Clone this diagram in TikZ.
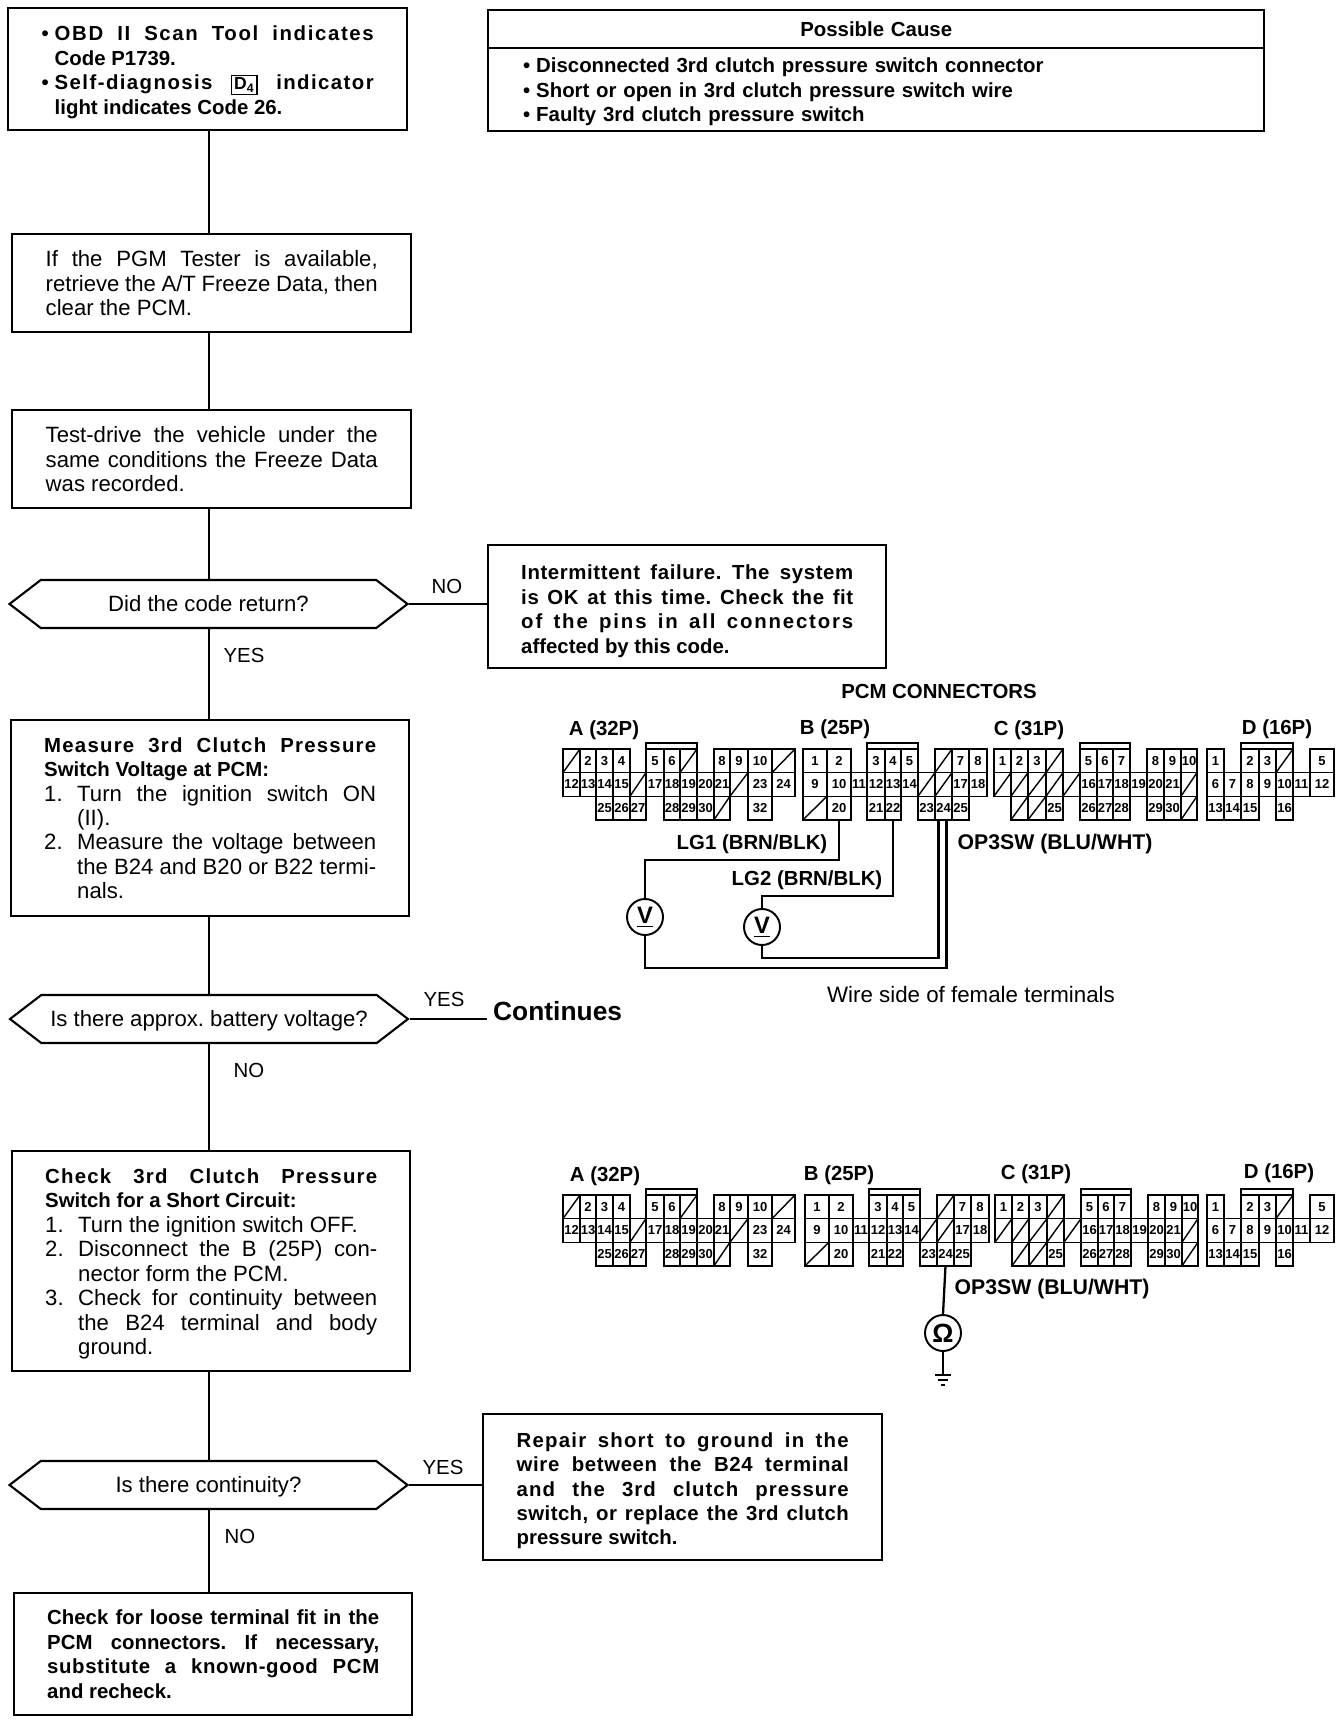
\documentclass[tikz,border=0pt]{standalone}
\usepackage{fontspec}
\setmainfont{Liberation Sans}
\usetikzlibrary{shapes.symbols,calc}
\frenchspacing

\newcommand{\bodyfont}{\fontsize{11.6}{13.9}\selectfont}
\newcommand{\regfont}{\fontsize{12.6}{13.9}\selectfont}
\newcommand{\pinfont}{\fontsize{7.4}{8}\selectfont\bfseries}
\newcommand{\flowitem}[3][0.66cm]{\par\hangindent=#1\hangafter=1\noindent\hbox to #1{#2\hfil}#3\par}
\newcommand{\trk}[2]{{\addfontfeatures{LetterSpace=#1}#2}}
\newcommand{\nudge}[1]{\par\kern#1\relax}
\newcommand{\dfour}{{\setlength{\fboxsep}{1pt}\setlength{\fboxrule}{0.7pt}\fbox{\fontsize{10}{10}\selectfont D\textsubscript{4}}}}

\tikzset{
    flowbox/.style 2 args={draw,line width=1.4pt,inner sep=0pt,anchor=north west,minimum width=#1*0.02cm,minimum height=#2*0.02cm,text width=332*0.02cm,align=justify,font=\regfont,execute at begin node={\tolerance=9999\hbadness=10000}},
    flowhex/.style={draw,line width=1.2pt,shape=signal,signal to=west and east,signal pointer angle=75,inner sep=0pt,minimum width=398*0.02cm,minimum height=48*0.02cm,text height=8.4pt,text depth=0pt,font=\regfont},
    flowline/.style={line width=1pt},
    txtlabel/.style={font=\bodyfont},
    boldlabel/.style={font=\bodyfont\bfseries},
    pincell/.style={draw,line width=0.8pt,inner sep=0pt,outer sep=0pt,minimum height=23.6*0.02cm,font=\pinfont},
    blankpin/.style={pincell,path picture={\draw[line width=0.8pt] (path picture bounding box.south west)--(path picture bounding box.north east);}},
    wire/.style={line width=1.3pt},
    meter/.style={draw,circle,line width=1.1pt,inner sep=0pt,minimum size=36*0.02cm,font=\fontsize{13.5}{13.5}\selectfont\bfseries},
}

% cells of the four connectors: left/right/row/number
\def\plugAnum{17/33/0/2,33/50/0/3,50/67/0/4,83/101/0/5,101/117/0/6,151/167/0/8,167/185/0/9,185/209/0/10,
    0/17/1/12,17/33/1/13,33/50/1/14,50/67/1/15,83/101/1/17,101/117/1/18,117/134/1/19,134/151/1/20,151/167/1/21,185/209/1/23,209/232/1/24,
    33/50/2/25,50/67/2/26,67/83/2/27,101/117/2/28,117/134/2/29,134/151/2/30,185/209/2/32}
\def\plugAblank{0/17/0,117/134/0,209/232/0,67/83/1,167/185/1,151/167/2}
\def\plugBnum{0/24/0/1,24/48/0/2,64/82/0/3,82/98/0/4,98/115/0/5,149/166/0/7,166/184/0/8,
    0/24/1/9,24/48/1/10,48/64/1/11,64/82/1/12,82/98/1/13,98/115/1/14,149/166/1/17,166/184/1/18,
    24/48/2/20,64/82/2/21,82/98/2/22,115/132/2/23,132/149/2/24,149/166/2/25}
\def\plugBblank{132/149/0,115/132/1,132/149/1,0/24/2}
\def\plugCnum{0/17/0/1,17/34/0/2,34/52/0/3,86/103/0/5,103/119/0/6,119/136/0/7,153/170/0/8,170/187/0/9,187/203/0/10,
    86/103/1/16,103/119/1/17,119/136/1/18,136/153/1/19,153/170/1/20,170/187/1/21,
    52/69/2/25,86/103/2/26,103/119/2/27,119/136/2/28,153/170/2/29,170/187/2/30}
\def\plugCblank{52/69/0,0/17/1,17/34/1,34/52/1,52/69/1,69/86/1,187/203/1,17/34/2,34/52/2,187/203/2}
\def\plugDnum{0/17/0/1,34/52/0/2,52/69/0/3,103/127/0/5,
    0/17/1/6,17/34/1/7,34/52/1/8,52/69/1/9,69/86/1/10,86/103/1/11,103/127/1/12,
    0/17/2/13,17/34/2/14,34/52/2/15,69/86/2/16}
\def\plugDblank{69/86/0}

% x, y, name, numbered cells, blank cells, left and right of the bar
\newcommand{\pcmplug}[7]{
    \begin{scope}[shift={(#1,#2)}]
        \foreach \xa/\xb/\rw/\lab in #4 {
            \node[pincell,minimum width={(\xb-\xa)*0.02cm}] (#3-\lab) at ({(\xa+\xb)/2},{\rw*23.6+11.8}) {\lab};
        }
        \foreach \xa/\xb/\rw in #5 {
            \node[blankpin,minimum width={(\xb-\xa)*0.02cm}] (#3-x\xa-\rw) at ({(\xa+\xb)/2},{\rw*23.6+11.8}) {};
        }
        \draw[line width=0.8pt] (#6,0) rectangle (#7,-6);
    \end{scope}
}

\begin{document}
\begin{tikzpicture}[x=0.02cm,y=-0.02cm]
    \useasboundingbox (0,0) rectangle (1344,1720);
    \coordinate (trunk) at (209,0);

    % flow chart, left side
    \node[flowbox={399}{122},font=\bodyfont\bfseries] (obd) at (7,7) {\flowitem[0.26cm]{\textbullet}{\trk{8}{OBD II Scan Tool indicates}\linebreak Code P1739.}\flowitem[0.26cm]{\textbullet}{\trk{7}{Self-diagnosis} \dfour{} \trk{7}{indicator}\linebreak light indicates Code 26.}\nudge{2pt}};
    \node[flowbox={399}{98}] (pgm) at (11,233) {If the PGM Tester is available,\linebreak retrieve the A/T Freeze Data, then\linebreak clear the PCM.};
    \node[flowbox={399}{98}] (drive) at (11,409) {Test-drive the vehicle under the\linebreak same conditions the Freeze Data\linebreak was recorded.};
    \node[flowhex] (codeq) at (208.5,604) {Did the code return?};
    \node[flowbox={398}{196}] (volt) at (10,719) {{\bodyfont\bfseries \trk{6}{Measure 3rd Clutch Pressure}\linebreak Switch Voltage at PCM:\par}\flowitem{1.}{Turn the ignition switch ON\linebreak (II).}\flowitem{2.}{Measure the voltage between\linebreak the B24 and B20 or B22 termi-\linebreak nals.}};
    \node[flowhex] (batq) at (209,1019) {Is there approx. battery voltage?};
    \node[flowbox={398}{220}] (short) at (11,1150) {{\bodyfont\bfseries \trk{6}{Check 3rd Clutch Pressure}\linebreak Switch for a Short Circuit:\par}\flowitem{1.}{Turn the ignition switch OFF.}\flowitem{2.}{Disconnect the B (25P) con-\linebreak nector form the PCM.}\flowitem{3.}{Check for continuity between\linebreak the B24 terminal and body\linebreak ground.}\nudge{-3pt}};
    \node[flowhex] (contq) at (208.5,1485) {Is there continuity?};
    \node[flowbox={398}{122},font=\bodyfont\bfseries] (loose) at (13,1592) {Check for loose terminal fit in the\linebreak PCM connectors. If necessary,\linebreak \trk{3}{substitute a known-good PCM}\linebreak and recheck.};

    % boxes on the right
    \node[flowbox={776}{38},text width=706*0.02cm,align=center,font=\bodyfont\bfseries] (causehead) at (487,9) {Possible Cause};
    \node[flowbox={776}{82},text width=706*0.02cm,align=left,font=\bodyfont\bfseries] (causebody) at (487,47) {\flowitem[0.26cm]{\textbullet}{Disconnected 3rd clutch pressure switch connector}\flowitem[0.26cm]{\textbullet}{Short or open in 3rd clutch pressure switch wire}\flowitem[0.26cm]{\textbullet}{Faulty 3rd clutch pressure switch}\nudge{3pt}};
    \node[flowbox={398}{123},font=\bodyfont\bfseries] (intermit) at (487,544) {\trk{3}{Intermittent failure. The system}\linebreak \trk{3}{is OK at this time. Check the fit}\linebreak \trk{9}{of the pins in all connectors}\linebreak affected by this code.\nudge{-5pt}};
    \node[flowbox={399}{146},font=\bodyfont\bfseries] (repair) at (482,1413) {\trk{6}{Repair short to ground in the}\linebreak \trk{3}{wire between the B24 terminal}\linebreak \trk{5}{and the 3rd clutch pressure}\linebreak \trk{2}{switch, or replace the 3rd clutch}\linebreak pressure switch.\nudge{-4pt}};
    \node[anchor=west,font=\fontsize{15}{18}\selectfont\bfseries] (cont) at (487,1011) {Continues};

    \foreach \a/\b in {obd/pgm,pgm/drive,drive/codeq,codeq/volt,volt/batq,batq/short,short/contq,contq/loose}
        \draw[flowline] (\a.south -| trunk) -- (\b.north -| trunk);
    \draw[flowline] (codeq.east) -- (intermit.west |- codeq.east);
    \draw[flowline] (batq.east) -- (cont.west |- batq.east);
    \draw[flowline] (contq.east) -- (repair.west |- contq.east);

    \node[txtlabel] (noa) at (447,586) {NO};
    \node[txtlabel] (yesa) at (244,655) {YES};
    \node[txtlabel] (yesb) at (444,999) {YES};
    \node[txtlabel] (nob) at (249,1070) {NO};
    \node[txtlabel] (yesc) at (443,1467) {YES};
    \node[txtlabel] (noc) at (240,1536) {NO};

    % upper connectors
    \node[boldlabel] (pcmtitle) at (939,691) {PCM CONNECTORS};
    \node[boldlabel] (ua) at (604,730) {A (32P)};
    \node[boldlabel] (ub) at (835,729) {B (25P)};
    \node[boldlabel] (uc) at (1029,730) {C (31P)};
    \node[boldlabel] (ud) at (1277,729) {D (16P)};
    \pcmplug{563}{749}{pa}{\plugAnum}{\plugAblank}{83}{134}
    \pcmplug{803}{749}{pb}{\plugBnum}{\plugBblank}{64}{115}
    \pcmplug{994}{749}{pc}{\plugCnum}{\plugCblank}{86}{136}
    \pcmplug{1207}{749}{pd}{\plugDnum}{\plugDblank}{34}{86}

    \node[meter] (va) at (645,917) {\underline{V}};
    \node[meter] (vb) at (762,927) {\underline{V}};
    \draw[wire] (pb-20.south) -- ++(0,40) -| (va.north);
    \draw[wire] (pb-22.south) -- ++(0,76) -| (vb.north);
    \draw[wire] (va.south) -- ++(0,32) -| ([xshift=0.06cm]pb-24.south);
    \draw[wire] (vb.south) -- ++(0,12) -| ([xshift=-0.1cm]pb-24.south);
    \node[boldlabel] (lga) at (752,844) {LG1 (BRN/BLK)};
    \node[boldlabel] (lgb) at (807,880) {LG2 (BRN/BLK)};
    \node[boldlabel,font=\fontsize{12.1}{14}\selectfont\bfseries] (opa) at (1055,844) {OP3SW (BLU/WHT)};
    \node[font=\fontsize{12.7}{14}\selectfont] (wside) at (971,995) {Wire side of female terminals};

    % lower connectors
    \node[boldlabel] (la) at (605,1176) {A (32P)};
    \node[boldlabel] (lb) at (839,1175) {B (25P)};
    \node[boldlabel] (lc) at (1036,1174) {C (31P)};
    \node[boldlabel] (ld) at (1279,1173) {D (16P)};
    \pcmplug{563}{1195}{qa}{\plugAnum}{\plugAblank}{83}{134}
    \pcmplug{805}{1195}{qb}{\plugBnum}{\plugBblank}{64}{115}
    \pcmplug{995}{1195}{qc}{\plugCnum}{\plugCblank}{86}{136}
    \pcmplug{1207}{1195}{qd}{\plugDnum}{\plugDblank}{34}{86}

    \node[meter,font=\fontsize{15}{15}\selectfont\bfseries] (ohm) at (943,1333) {Ω};
    \coordinate (gnd) at (943,1375);
    \draw[wire] (qb-24.south) -- (ohm.north);
    \draw[wire] (ohm.south) -- (gnd);
    \draw[flowline] ([xshift=-0.16cm]gnd) -- ([xshift=0.16cm]gnd);
    \draw[flowline] ([xshift=-0.1cm,yshift=-0.1cm]gnd) -- ([xshift=0.1cm,yshift=-0.1cm]gnd);
    \draw[flowline] ([xshift=-0.04cm,yshift=-0.2cm]gnd) -- ([xshift=0.04cm,yshift=-0.2cm]gnd);
    \node[boldlabel,font=\fontsize{12.1}{14}\selectfont\bfseries] (opb) at (1052,1289) {OP3SW (BLU/WHT)};
\end{tikzpicture}
\end{document}
